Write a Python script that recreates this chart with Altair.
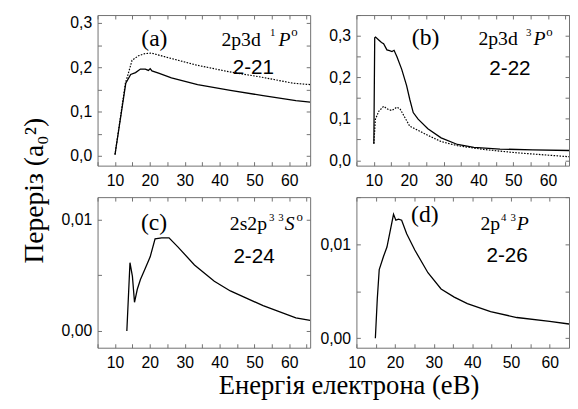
import altair as alt
import pandas as pd

# ---------------- data ----------------
X_LABELS = [10, 20, 30, 40, 50, 60]

# (a) 2p3d 1P°, transition 2-21
E_a_solid = [10, 13.1, 14.5, 15.9, 17.3, 18.7, 19.6, 20.1, 20.6, 22.5, 26.2, 33.7, 43.1, 52.5, 61.9, 66]
v_a_solid = [0.003, 0.164, 0.184, 0.188, 0.196, 0.196, 0.193, 0.197, 0.192, 0.187, 0.176, 0.161, 0.148, 0.136, 0.125, 0.1215]
E_a_dot = [10, 13.0, 13.6, 14.9, 16.75, 18.6, 20.5, 24.2, 33.4, 42.7, 51.9, 61.2, 66]
v_a_dot = [0.003, 0.165, 0.18, 0.216, 0.226, 0.231, 0.232, 0.224, 0.205, 0.19, 0.178, 0.164, 0.161]

# (b) 2p3d 3P°, transition 2-22
E_b_solid = [10, 10.25, 10.5, 11.4, 12.2, 12.8, 13.75, 14.5, 15.2, 15.8, 16.6, 18.0, 19.4, 20.3,
             21.3, 22.7, 25.5, 29.3, 34.0, 38.7, 46.2, 55.6, 66]
v_b_solid = [0.04, 0.295, 0.297, 0.29, 0.284, 0.281, 0.266, 0.264, 0.262, 0.265, 0.25, 0.219, 0.18, 0.147,
             0.115, 0.099, 0.076, 0.054, 0.038, 0.031, 0.027, 0.025, 0.0235]
E_b_dot = [10, 10.45, 11.4, 12.8, 14.2, 15.2, 16.6, 17.5, 18.9, 20.3, 22.7, 25.5, 29.3, 34, 41.5, 50.9, 66]
v_b_dot = [0.04, 0.0985, 0.118, 0.13, 0.122, 0.12, 0.128, 0.124, 0.103, 0.082, 0.072, 0.06, 0.045, 0.035,
           0.026, 0.018, 0.0085]

# (c) 2s2p3 3S°, transition 2-24
E_c = [13.4, 14.3, 15.0, 15.6, 16.4, 17.3, 18.7, 20.1, 21.5, 23.4, 25.5, 28.1, 32.8, 38.5, 43.1, 52.5, 61.9, 66]
v_c = [0, 0.00612, 0.0049, 0.00257, 0.00374, 0.00461, 0.00563, 0.00665, 0.00826, 0.00835, 0.00835,
       0.00752, 0.00592, 0.00446, 0.00359, 0.00227, 0.00117, 0.00096]

# (d) 2p4 3P, transition 2-26
E_d = [14.9, 15.4, 15.9, 17.0, 17.9, 19.6, 20.2, 20.9, 21.7, 23.0, 25.1, 28.5, 31.9, 35.3, 38.7, 44.7, 51.5, 60, 65]
v_d = [0, 0.00421, 0.00731, 0.00869, 0.0097, 0.01317, 0.01255, 0.01265, 0.01255, 0.0111, 0.00938, 0.00697,
       0.00524, 0.00438, 0.00369, 0.00283, 0.00221, 0.0018, 0.00152]

PANEL_TAGS = ["(a)", "(b)", "(c)", "(d)"]
TRANSITIONS = ["2-21", "2-22", "2-24", "2-26"]
Y_TITLE = "Переріз (a₀²)"
X_TITLE = "Енергія електрона (еВ)"

# ---------------- styling ----------------
W, H = 216, 153
GRAY = "#707070"
SERIF = "Liberation Serif"
SANS = "Liberation Sans"
SUP = 11
SUP_DY = -10


def txt(s, E, V, xs, ys, size, font=SERIF, style="normal", align="center", dx=0, dy=0):
    return alt.Chart(pd.DataFrame({"t": [s]})).mark_text(
        font=font, fontSize=size, fontStyle=style, align=align, baseline="alphabetic",
        dx=dx, dy=dy, color="black"
    ).encode(
        text="t:N",
        x=alt.XDatum(datum=E, scale=xs, axis=None),
        y=alt.YDatum(datum=V, scale=ys, axis=None),
    )


def panel(series, xdom, ydom, xticks, yticks, ylabels, yfmt, tag, tag_pos, trans, trans_pos, term,
          ytitle=None, xtitle=None):
    xs = alt.Scale(domain=xdom, nice=False, zero=False)
    ys = alt.Scale(domain=ydom, nice=False, zero=False)
    layers = []
    df0 = None
    for i, (E, V, dotted) in enumerate(series):
        df = pd.DataFrame({"E": E, "v": V})
        if i == 0:
            df0 = df
            xkw = dict(values=X_LABELS, ticks=False, domain=False, grid=False,
                       labelPadding=7, format="d", labelFlush=False)
            if xtitle:
                xkw.update(title=xtitle, titleFont=SERIF, titleFontSize=27, titleFontWeight="normal",
                           titleColor="black", titleX=255, titleY=47, titleAlign="center",
                           titleBaseline="alphabetic", titleAngle=0)
            else:
                xkw.update(title=None)
            ykw = dict(values=ylabels, ticks=False, domain=False, grid=False, labelPadding=6,
                       labelFlush=False,
                       labelExpr=f"replace(format(datum.value, '{yfmt}'), '.', ',')")
            if ytitle:
                ykw.update(title=ytitle, titleFont=SERIF, titleFontSize=28, titleFontWeight="normal",
                           titleColor="black", titleX=-64, titleY=178, titleAlign="center",
                           titleBaseline="middle", titleAngle=270)
            else:
                ykw.update(title=None)
            xa = alt.Axis(**xkw)
            ya = alt.Axis(**ykw)
        else:
            xa = None
            ya = None
        mk = dict(color="black", strokeWidth=1.3, clip=True)
        if dotted:
            mk["strokeDash"] = [1.6, 1.4]
            mk["strokeWidth"] = 1.2
        layers.append(
            alt.Chart(df).mark_line(**mk).encode(
                x=alt.X("E:Q", scale=xs, axis=xa),
                y=alt.Y("v:Q", scale=ys, axis=ya),
            )
        )
    # inward ticks on all four sides
    for xo, yo in (("top", "right"), ("bottom", "left")):
        layers.append(
            alt.Chart(df0).mark_line(opacity=0).encode(
                x=alt.X("E:Q", scale=xs, axis=alt.Axis(
                    orient=xo, offset=-H, values=xticks, labels=False, domain=False, grid=False,
                    title=None, ticks=True, tickSize=4, tickColor=GRAY, tickWidth=1)),
                y=alt.Y("v:Q", scale=ys, axis=alt.Axis(
                    orient=yo, offset=-W, values=yticks, labels=False, domain=False, grid=False,
                    title=None, ticks=True, tickSize=4, tickColor=GRAY, tickWidth=1)),
            )
        )
    layers.append(txt(tag, tag_pos[0], tag_pos[1], xs, ys, 24))
    layers.append(txt(trans, trans_pos[0], trans_pos[1], xs, ys, 21, font=SANS))
    for (s, E, V, size, style, align, dx, dy) in term:
        layers.append(txt(s, E, V, xs, ys, size, style=style, align=align, dx=dx, dy=dy))
    return alt.layer(*layers).properties(width=W, height=H).resolve_axis(x="independent", y="independent")


X5 = [5, 10, 15, 20, 25, 30, 35, 40, 45, 50, 55, 60, 65]
X10 = [10, 15, 20, 25, 30, 35, 40, 45, 50, 55, 60, 65]

pa = panel(
    [(E_a_solid, v_a_solid, False), (E_a_dot, v_a_dot, True)],
    [5, 66], [-0.022, 0.318], X5, [0, 0.05, 0.1, 0.15, 0.2, 0.25, 0.3], [0, 0.1, 0.2, 0.3], ".1f",
    PANEL_TAGS[0], (21.3, 0.247), TRANSITIONS[0], (49.7, 0.185),
    [("2p3d", 56.9, 0.249, 20, "normal", "right", -18, 0),
     ("1", 56.9, 0.249, SUP, "normal", "right", -3, SUP_DY),
     ("P", 56.9, 0.249, 20, "italic", "left", 0, 0),
     ("o", 56.9, 0.249, 13, "normal", "left", 13, SUP_DY)],
    ytitle=Y_TITLE,
)
pb = panel(
    [(E_b_solid, v_b_solid, False), (E_b_dot, v_b_dot, True)],
    [5, 66], [-0.013, 0.35], X5, [0, 0.05, 0.1, 0.15, 0.2, 0.25, 0.3, 0.35], [0, 0.1, 0.2, 0.3], ".1f",
    PANEL_TAGS[1], (24.85, 0.2767), TRANSITIONS[1], (49.05, 0.206),
    [("2p3d", 55.8, 0.2767, 20, "normal", "right", -16, 0),
     ("3", 55.8, 0.2767, SUP, "normal", "right", -2, SUP_DY),
     ("P", 55.8, 0.2767, 20, "italic", "left", 0, 0),
     ("o", 55.8, 0.2767, 13, "normal", "left", 13, SUP_DY)],
)
pc = panel(
    [(E_c, v_c, False)],
    [5, 66], [-0.0015, 0.012], X5, [0, 0.005, 0.01], [0, 0.01], ".2f",
    PANEL_TAGS[2], (21.2, 0.00902), TRANSITIONS[2], (49.9, 0.0061),
    [("2s2p", 58.7, 0.00902, 20, "normal", "right", -18, 0),
     ("3", 58.7, 0.00902, SUP, "normal", "left", -16, SUP_DY),
     ("3", 58.7, 0.00902, SUP, "normal", "right", -1, SUP_DY),
     ("S", 58.7, 0.00902, 20, "italic", "left", 0, 0),
     ("o", 58.7, 0.00902, 13, "normal", "left", 12, SUP_DY)],
    xtitle=X_TITLE,
)
pd_ = panel(
    [(E_d, v_d, False)],
    [10, 65], [-0.001, 0.015], X10, [0, 0.005, 0.01, 0.015], [0, 0.01], ".2f",
    PANEL_TAGS[3], (27.7, 0.01233), TRANSITIONS[3], (49.0, 0.00807),
    [("2p", 51.5, 0.01147, 20, "normal", "right", -17, 0),
     ("4", 51.5, 0.01147, SUP, "normal", "left", -16, SUP_DY),
     ("3", 51.5, 0.01147, SUP, "normal", "right", -1, SUP_DY),
     ("P", 51.5, 0.01147, 20, "italic", "left", 0, 0)],
)

chart = alt.concat(
    pa, pb, pc, pd_, columns=2, spacing={"row": 32, "column": 47}, bounds="flush"
).properties(
    padding={"left": 12, "top": 3, "right": 0, "bottom": 0}, background="white"
).configure_view(stroke=GRAY, strokeWidth=1).configure_axis(
    labelFont=SANS, labelFontSize=16, labelColor="black"
)

chart.save("out.html", embed_options={"renderer": "svg", "actions": False})
